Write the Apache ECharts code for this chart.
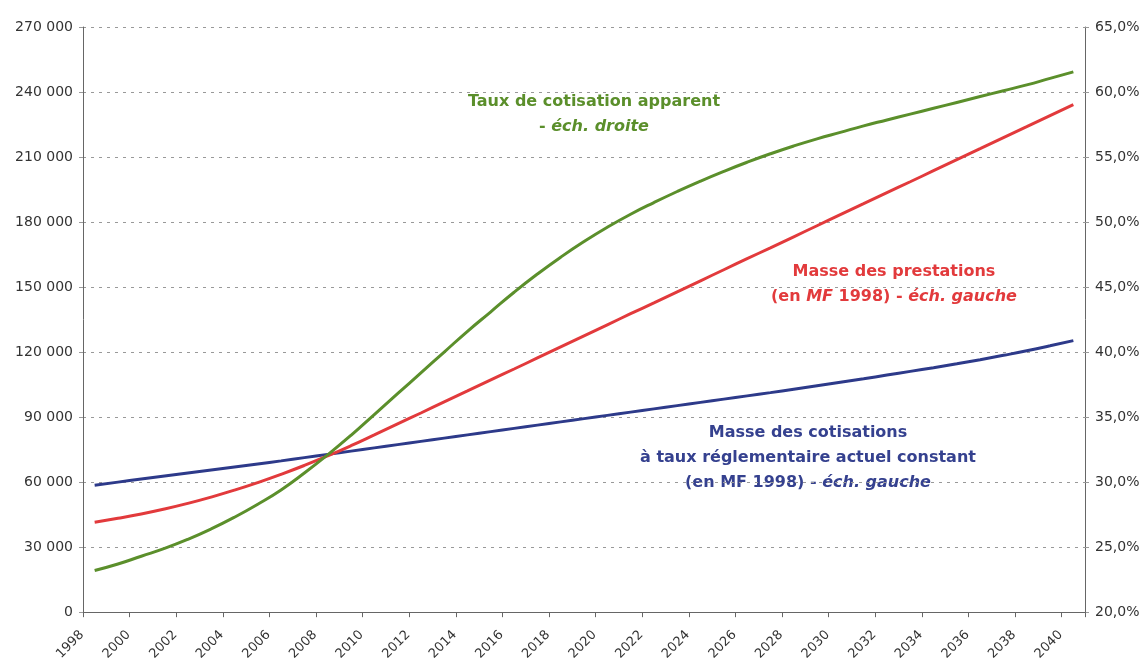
<!DOCTYPE html>
<html>
<head>
<meta charset="utf-8">
<script src="https://cdn.jsdelivr.net/npm/echarts@6/dist/echarts.min.js"></script>
<style>
  html, body { margin: 0; padding: 0; background: #fff; }
  #chart { width: 1143px; height: 663px; }
</style>
</head>
<body>
<div id="chart"></div>
<script>
// annees 1998 -> 2040
var years = [];
for (var y = 1998; y <= 2040; y++) years.push(String(y));

// masse des prestations (MF 1998) - ech. gauche
var prestations = [41500, 43300, 45300, 47600, 50200, 53100, 56300, 59800, 63600, 67700,
  72100, 76800, 81800, 86900, 91900, 97000, 102100, 107200, 112200, 117300,
  122400, 127500, 132600, 137700, 142700, 147800, 152900, 158000, 163100, 168100,
  173200, 178300, 183400, 188500, 193600, 198600, 203700, 208800, 213900, 219000,
  224000, 229100, 234200];

// masse des cotisations a taux constant (MF 1998) - ech. gauche
var cotisations = [58600, 60000, 61400, 62800, 64200, 65600, 67000, 68400, 69800, 71300,
  72800, 74300, 75800, 77300, 78800, 80300, 81800, 83300, 84800, 86300,
  87800, 89300, 90800, 92300, 93800, 95300, 96800, 98300, 99800, 101300,
  102900, 104500, 106100, 107700, 109400, 111100, 112800, 114600, 116500, 118500,
  120600, 122900, 125300];

// taux de cotisation apparent (%) - ech. droite
var taux = [23.2, 23.7, 24.3, 24.9, 25.6, 26.4, 27.3, 28.3, 29.4, 30.7,
  32.1, 33.6, 35.2, 36.8, 38.4, 40.0, 41.6, 43.1, 44.6, 46.0,
  47.3, 48.5, 49.6, 50.6, 51.5, 52.35, 53.15, 53.9, 54.6, 55.25,
  55.85, 56.4, 56.9, 57.4, 57.85, 58.3, 58.75, 59.2, 59.65, 60.1,
  60.55, 61.05, 61.55];

var font = 'DejaVu Sans';
var green = '#5b8f2b', red = '#e23a3c', blue = '#2d3a8a';

function milliers(v) {
  return String(v).replace(/\B(?=(\d{3})+(?!\d))/g, ' ');
}

var myChart = echarts.init(document.getElementById('chart'));

var option = {
  backgroundColor: '#fff',
  animation: false,
  grid: { left: 83, right: 58, top: 27, bottom: 50 },
  xAxis: {
    type: 'category',
    data: years,
    boundaryGap: true,
    axisLine: { lineStyle: { color: '#666', width: 1 } },
    axisTick: { show: true, length: 5, lineStyle: { color: '#666' } },
    axisLabel: {
      interval: 1,
      rotate: 45,
      color: '#333',
      fontFamily: font,
      fontSize: 13,
      margin: 8,
      padding: [0, 18, 0, 0]
    },
    splitLine: { show: false }
  },
  yAxis: [
    {
      type: 'value',
      min: 0,
      max: 270000,
      interval: 30000,
      axisLine: { show: true, lineStyle: { color: '#666' } },
      axisTick: { show: true, length: 4, lineStyle: { color: '#999' } },
      axisLabel: {
        color: '#333',
        fontFamily: font,
        fontSize: 14,
        margin: 10,
        formatter: milliers
      },
      splitLine: {
        show: true,
        lineStyle: { color: '#999', type: [3, 5], width: 1 }
      }
    },
    {
      type: 'value',
      position: 'right',
      min: 20,
      max: 65,
      interval: 5,
      axisLine: { show: true, lineStyle: { color: '#666' } },
      axisTick: { show: true, length: 4, lineStyle: { color: '#999' } },
      axisLabel: {
        color: '#333',
        fontFamily: font,
        fontSize: 14,
        margin: 10,
        formatter: function (v) { return v.toFixed(1).replace('.', ',') + '%'; }
      },
      splitLine: { show: false }
    }
  ],
  series: [
    {
      name: 'Masse des cotisations',
      type: 'line',
      yAxisIndex: 0,
      data: cotisations,
      smooth: true,
      symbol: 'none',
      lineStyle: { color: blue, width: 3 },
      z: 3
    },
    {
      name: 'Masse des prestations',
      type: 'line',
      yAxisIndex: 0,
      data: prestations,
      smooth: true,
      symbol: 'none',
      lineStyle: { color: red, width: 3 },
      z: 4
    },
    {
      name: 'Taux de cotisation apparent',
      type: 'line',
      yAxisIndex: 1,
      data: taux,
      smooth: true,
      symbol: 'none',
      lineStyle: { color: green, width: 3 },
      z: 5
    }
  ],
  graphic: [
    {
      type: 'text',
      x: 594, y: 114,
      style: {
        text: '{n|Taux de cotisation apparent}\n{n|- }{i|éch. droite}',
        textAlign: 'center',
        textVerticalAlign: 'middle',
        rich: {
          n: { fill: green, font: 'bold 16px "DejaVu Sans"', lineHeight: 25 },
          i: { fill: green, font: 'italic bold 16px "DejaVu Sans"', lineHeight: 25 }
        }
      }
    },
    {
      type: 'text',
      x: 894, y: 284,
      style: {
        text: '{n|Masse des prestations}\n{n|(en }{i|MF}{n| 1998) - }{i|éch. gauche}',
        textAlign: 'center',
        textVerticalAlign: 'middle',
        rich: {
          n: { fill: red, font: 'bold 16px "DejaVu Sans"', lineHeight: 25 },
          i: { fill: red, font: 'italic bold 16px "DejaVu Sans"', lineHeight: 25 }
        }
      }
    },
    {
      type: 'text',
      x: 808, y: 458,
      style: {
        text: '{n|Masse des cotisations}\n{n|à taux réglementaire actuel constant}\n{n|(en MF 1998) - }{i|éch. gauche}',
        textAlign: 'center',
        textVerticalAlign: 'middle',
        rich: {
          n: { fill: '#35418f', font: 'bold 16px "DejaVu Sans"', lineHeight: 25 },
          i: { fill: '#35418f', font: 'italic bold 16px "DejaVu Sans"', lineHeight: 25 }
        }
      }
    }
  ]
};

myChart.setOption(option);
</script>
</body>
</html>
